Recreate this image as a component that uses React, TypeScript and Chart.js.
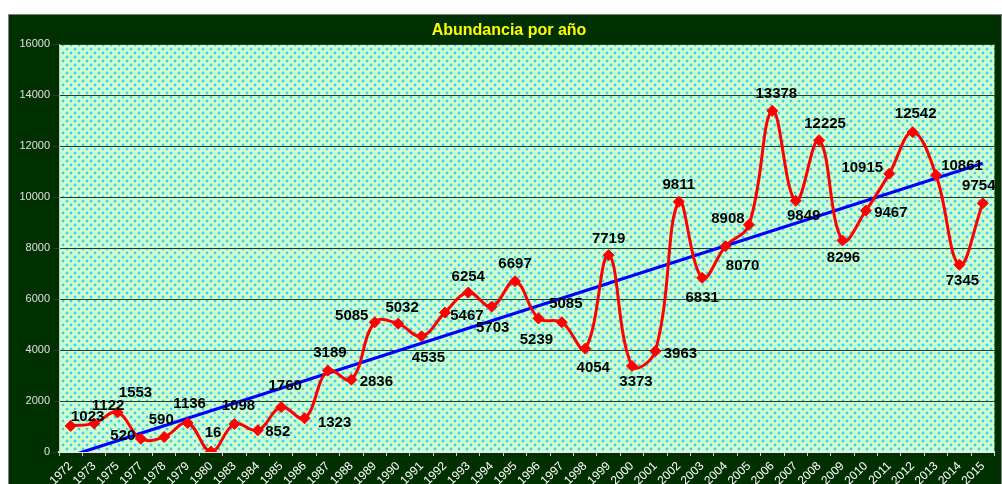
import React, { useEffect, useRef } from 'react';
import { Chart, registerables } from 'chart.js';

Chart.register(...registerables);

const titleText = 'Abundancia por año';

const years = [
  '1972', '1973', '1975', '1977', '1978', '1979', '1980', '1983', '1984', '1985',
  '1986', '1987', '1988', '1989', '1990', '1991', '1992', '1993', '1994', '1995',
  '1996', '1997', '1998', '1999', '2000', '2001', '2002', '2003', '2004', '2005',
  '2006', '2007', '2008', '2009', '2010', '2011', '2012', '2013', '2014', '2015',
];

const abundance = [
  1023, 1122, 1553, 520, 590, 1136, 16, 1098, 852, 1760,
  1323, 3189, 2836, 5085, 5032, 4535, 5467, 6254, 5703, 6697,
  5239, 5085, 4054, 7719, 3373, 3963, 9811, 6831, 8070, 8908,
  13378, 9849, 12225, 8296, 9467, 10915, 12542, 10861, 7345, 9754,
];

const yTicks = [0, 2000, 4000, 6000, 8000, 10000, 12000, 14000, 16000];

// label placement offsets (px) relative to each point
const labelDx = [
  17, 14, 18, -18, -3, 2, 2, 4, 20, 4,
  30, 2, 25, -23, 4, 7, 22, 0, 1, 0,
  -2, 4, 8, 0, 4, 25, 0, 0, 17, -21,
  4, 8, 6, 1, 25, -27, 3, 26, 3, -4,
];
const labelDy = [
  -9, -18, -20, -3, -17, -19, -19, -18, 2, -21,
  5, -18, 2, -6, -16, 22, 3, -16, 21, -17,
  21, -18, 19, -16, 16, 3, -17, 20, 20, -6,
  -17, 15, -16, 17, 2, -6, -18, -9, 16, -17,
];

function linearTrend(values: number[]): number[] {
  const n = values.length;
  let sx = 0, sy = 0, sxx = 0, sxy = 0;
  values.forEach((v, i) => {
    sx += i; sy += v; sxx += i * i; sxy += i * v;
  });
  const b = (n * sxy - sx * sy) / (n * sxx - sx * sx);
  const a = (sy - b * sx) / n;
  return values.map((_, i) => a + b * i);
}

const FONT = '"Liberation Sans", Arial, sans-serif';

function makePattern(ctx: CanvasRenderingContext2D) {
  const c = document.createElement('canvas');
  c.width = 8;
  c.height = 8;
  const p = c.getContext('2d')!;
  p.fillStyle = '#ccffcc';
  p.fillRect(0, 0, 8, 8);
  const dot = (x: number, y: number) => {
    p.fillStyle = '#aaf2dc';
    p.fillRect(x - 1, y, 4, 2);
    p.fillRect(x, y - 1, 2, 4);
    p.fillStyle = '#3cccf0';
    p.fillRect(x, y, 2, 2);
  };
  dot(1, 1);
  dot(5, 5);
  return ctx.createPattern(c, 'repeat');
}

const decorPlugin = {
  id: 'decor',
  beforeDraw(chart: any) {
    const { ctx, chartArea } = chart;
    ctx.save();
    const pat = makePattern(ctx);
    if (pat) {
      ctx.fillStyle = pat;
      ctx.fillRect(chartArea.left, chartArea.top, chartArea.right - chartArea.left, chartArea.bottom - chartArea.top);
    }
    ctx.font = `bold 16px ${FONT}`;
    ctx.fillStyle = '#ffff00';
    ctx.textAlign = 'center';
    ctx.textBaseline = 'alphabetic';
    ctx.fillText(titleText, 500, 20);
    ctx.restore();
  },
  afterDatasetsDraw(chart: any) {
    const { ctx } = chart;
    const meta = chart.getDatasetMeta(0);
    ctx.save();
    ctx.font = `bold 15px ${FONT}`;
    ctx.fillStyle = '#000000';
    ctx.textAlign = 'center';
    ctx.textBaseline = 'middle';
    meta.data.forEach((pt: any, i: number) => {
      ctx.fillText(String(abundance[i]), pt.x + labelDx[i], pt.y + labelDy[i]);
    });
    ctx.restore();
  },
};

export default function App() {
  const ref = useRef<HTMLCanvasElement>(null);

  useEffect(() => {
    if (!ref.current) return;
    const chart = new Chart(ref.current, {
      type: 'line',
      data: {
        labels: years,
        datasets: [
          {
            label: 'Abundancia',
            data: abundance,
            borderColor: '#ff0000',
            backgroundColor: '#ff0000',
            borderWidth: 3,
            tension: 0.4,
            pointStyle: 'rectRot',
            pointRadius: 5.5,
            pointBorderWidth: 1,
            pointBorderColor: '#ff0000',
            pointBackgroundColor: '#ff0000',
            fill: false,
          },
          {
            label: 'Tendencia',
            data: linearTrend(abundance),
            borderColor: '#0000ff',
            borderWidth: 3,
            pointRadius: 0,
            tension: 0,
            fill: false,
          },
        ],
      },
      options: {
        responsive: false,
        animation: false,
        layout: { padding: { top: 29, right: 2, left: 0, bottom: 0 } },
        plugins: {
          legend: { display: false },
          title: { display: false },
          tooltip: { enabled: false },
        },
        scales: {
          x: {
            offset: true,
            grid: {
              offset: true,
              drawOnChartArea: false,
              drawTicks: true,
              tickLength: 4,
              color: '#d0d0d0',
            },
            border: { color: '#e8e8e8', width: 2 },
            ticks: {
              autoSkip: false,
              minRotation: 45,
              maxRotation: 45,
              color: '#ffffff',
              font: { family: FONT, size: 12 },
              padding: 3,
            },
            afterFit(scale: any) {
              scale.height = 41;
            },
          },
          y: {
            min: 0,
            max: 16000,
            afterBuildTicks(scale: any) {
              scale.ticks = yTicks.map((v) => ({ value: v }));
            },
            grid: {
              color: '#2a3a2a',
              lineWidth: 1,
              tickLength: 6,
            },
            border: { color: '#c8c8c8', width: 1 },
            ticks: {
              color: '#e0e0e0',
              font: { family: FONT, size: 11 },
              padding: 3,
              callback: (v: any) => String(v),
            },
            afterFit(scale: any) {
              scale.width = 50;
            },
          },
        },
      },
      plugins: [decorPlugin],
    });
    return () => chart.destroy();
  }, []);

  return (
    <div
      style={{
        position: 'fixed',
        left: 8,
        top: 14,
        width: 994,
        height: 480,
        boxSizing: 'border-box',
        border: '1px solid #808080',
        background: '#003000',
        overflow: 'hidden',
      }}
    >
      <canvas ref={ref} width={992} height={478} style={{ display: 'block' }} />
    </div>
  );
}
